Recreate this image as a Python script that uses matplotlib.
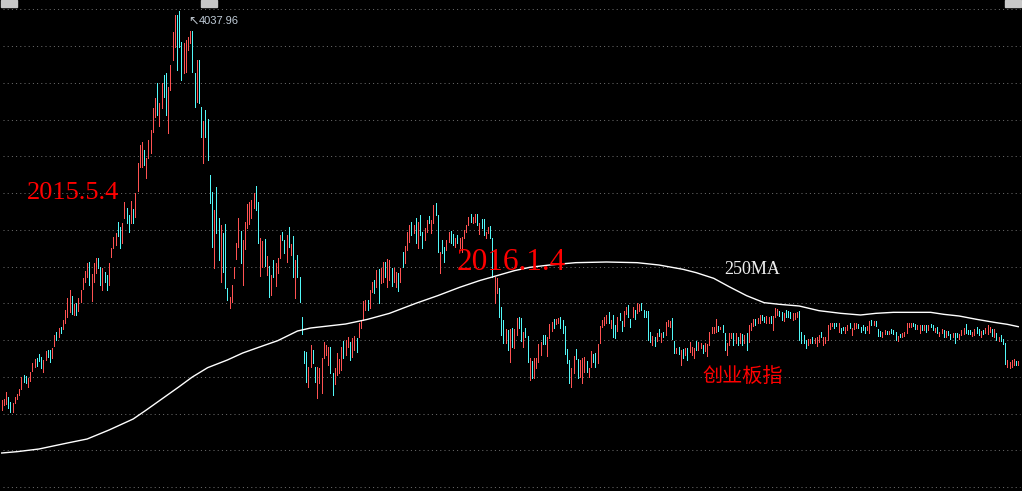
import matplotlib
matplotlib.use('Agg')
import matplotlib.pyplot as plt
from matplotlib.patches import Rectangle
import numpy as np

# ChiNext (创业板指) daily bars: high / low per day
hi = [1704,1710,1752,1722,1692,1686,1722,1740,1770,1842,
      1854,1848,1836,1872,1926,1950,1956,1980,1962,1944,
      1998,2004,2004,2016,2094,2112,2136,2142,2184,2244,
      2316,2364,2328,2280,2286,2316,2364,2436,2478,2526,
      2532,2460,2526,2556,2556,2502,2496,2472,2454,2526,
      2616,2682,2706,2772,2742,2766,2892,2856,2814,2898,
      2850,2946,3126,3234,3252,3204,3156,3264,3324,3456,
      3516,3606,3486,3606,3654,3666,3582,3714,3912,4014,
      4014,4037.96,3852,3846,3864,3882,3918,3918,3666,3744,
      3744,3462,3378,3444,3390,3054,2952,2844,2982,2796,
      2754,2706,2760,2376,2322,2394,2502,2646,2796,2718,
      2664,2772,2880,2892,2904,2946,2988,2892,2676,2658,
      2670,2568,2508,2454,2544,2526,2556,2694,2712,2664,
      2694,2742,2640,2688,2544,2574,2442,2202,1998,1992,
      1902,2034,2004,1902,1902,1896,1956,2052,2034,2022,
      2022,1866,1896,1986,1950,2022,2058,2064,2082,2052,
      2076,2088,2076,2166,2184,2298,2304,2304,2364,2412,
      2424,2484,2490,2496,2532,2532,2550,2544,2496,2496,
      2472,2466,2496,2592,2628,2712,2754,2772,2754,2796,
      2772,2814,2712,2736,2784,2808,2784,2874,2886,2814,
      2592,2664,2622,2664,2712,2718,2700,2676,2694,2676,
      2682,2724,2754,2802,2820,2802,2820,2820,2766,2790,
      2790,2712,2742,2748,2676,2442,2436,2376,2262,2184,
      2130,2124,2130,2136,2130,2196,2202,2196,2112,2136,
      2088,1956,1938,1956,1956,2040,2052,2094,2094,2082,
      2160,2172,2190,2190,2196,2202,2184,2148,2010,1944,
      1896,1968,2010,1950,1944,1956,1962,1938,1896,1998,
      1980,1986,2040,2148,2184,2202,2214,2232,2184,2214,
      2154,2202,2226,2178,2238,2262,2274,2190,2262,2244,
      2286,2280,2286,2244,2238,2238,2112,2088,2082,2106,
      2130,2106,2112,2172,2184,2178,2196,2058,2016,2022,
      2004,2010,2016,2016,2052,2022,2016,2058,2052,2046,
      2034,2046,2040,2112,2142,2142,2190,2148,2142,2154,
      2106,2046,2106,2106,2106,2106,2082,2106,2100,2094,
      2106,2154,2166,2190,2190,2196,2214,2214,2202,2208,
      2202,2208,2208,2256,2250,2238,2232,2226,2244,2238,
      2232,2226,2226,2232,2238,2112,2094,2064,2070,2070,
      2082,2076,2082,2094,2112,2082,2082,2154,2166,2166,
      2166,2166,2166,2136,2142,2142,2154,2166,2136,2166,
      2166,2160,2142,2154,2142,2148,2178,2184,2178,2178,
      2130,2118,2112,2124,2118,2118,2130,2124,2112,2088,
      2100,2106,2112,2166,2166,2166,2166,2160,2154,2154,
      2154,2154,2154,2154,2160,2154,2136,2142,2112,2130,
      2124,2118,2118,2100,2106,2106,2106,2100,2124,2136,
      2160,2124,2124,2112,2130,2142,2130,2118,2124,2136,
      2154,2142,2130,2130,2106,2082,2094,2070,2046,1944,
      1932,1944,1950,1938,1938]

lo = [1644,1674,1680,1656,1632,1632,1686,1710,1734,1770,
      1812,1806,1782,1818,1878,1902,1908,1938,1896,1872,
      1944,1962,1932,1956,2028,2064,2082,2106,2130,2166,
      2202,2232,2220,2214,2214,2238,2292,2370,2412,2442,
      2394,2298,2412,2466,2496,2394,2364,2412,2364,2394,
      2562,2616,2634,2688,2616,2646,2796,2766,2712,2766,
      2766,2802,2958,3102,3102,3114,3036,3156,3186,3312,
      3402,3414,3348,3456,3522,3414,3306,3564,3744,3822,
      3684,3822,3624,3666,3672,3804,3846,3672,3462,3492,
      3486,3282,3126,3282,3144,2886,2622,2496,2706,2544,
      2412,2472,2376,2304,2256,2292,2436,2550,2622,2526,
      2394,2610,2736,2760,2796,2856,2844,2646,2448,2502,
      2508,2454,2322,2334,2442,2388,2466,2556,2664,2586,
      2532,2622,2574,2442,2316,2442,2292,2100,1926,1812,
      1782,1902,1926,1812,1716,1806,1746,1956,1974,1914,
      1866,1734,1800,1854,1866,1884,1956,1974,2022,1944,
      1962,2004,1992,2082,2136,2184,2244,2244,2256,2352,
      2346,2382,2286,2406,2412,2442,2382,2424,2388,2412,
      2382,2358,2412,2502,2526,2604,2652,2694,2706,2646,
      2616,2694,2616,2664,2712,2766,2706,2766,2814,2592,
      2466,2586,2532,2604,2652,2646,2634,2622,2646,2616,
      2592,2676,2712,2754,2772,2766,2772,2754,2700,2736,
      2694,2676,2706,2676,2442,2286,2346,2202,2094,2046,
      2046,2004,1932,2022,2016,2094,2136,2058,2022,2082,
      1932,1824,1836,1836,1896,1932,1974,2040,2040,1968,
      2076,2118,2136,2160,2166,2136,2106,1980,1926,1806,
      1782,1866,1950,1836,1842,1806,1872,1872,1842,1902,
      1932,1902,1926,2046,2142,2154,2166,2166,2136,2082,
      2076,2118,2184,2118,2148,2220,2202,2142,2202,2190,
      2226,2238,2244,2202,2202,2064,2052,2034,2028,2058,
      2088,2052,2082,2094,2148,2142,2070,1986,1986,1980,
      1914,1956,1974,1944,1992,1974,1956,2004,2004,2016,
      1986,1998,1968,2034,2106,2106,2112,2118,2130,2112,
      2004,1974,2034,2076,2034,2046,2034,2046,2034,2046,
      2004,2052,2124,2148,2154,2166,2166,2184,2172,2166,
      2166,2166,2124,2202,2214,2208,2184,2178,2202,2202,
      2196,2184,2190,2202,2064,2046,2046,2016,2034,2046,
      2046,2046,2028,2052,2082,2034,2046,2064,2130,2148,
      2136,2148,2112,2106,2124,2106,2124,2136,2094,2130,
      2136,2136,2112,2124,2106,2124,2106,2154,2154,2148,
      2088,2088,2082,2100,2100,2100,2106,2100,2064,2058,
      2082,2082,2088,2106,2142,2142,2148,2130,2130,2106,
      2124,2124,2112,2124,2142,2124,2112,2106,2088,2106,
      2082,2082,2094,2070,2082,2046,2082,2070,2094,2100,
      2106,2100,2100,2088,2094,2106,2094,2082,2100,2106,
      2100,2112,2088,2082,2064,2058,2058,2040,1920,1902,
      1896,1902,1914,1914,1914]

# u = up day (close > open), d = down day
updown = ("uuudduuuuu" "dduuuudddu" "udduududuu" "uududuuuuu" "duuudduddu"
          "uuudduuddu" "duuuuduuuu" "uduudduuuu" "ddduuuuddu" "dduddddudd"
          "uddduuuuud" "uuuuuudduu" "dududuuudd" "udududdddd" "uudduuuuuu"
          "dduuuuduud" "uuduuuuduu" "duduuduudu" "ududuuudud" "udduuduudd"
          "udduuddudu" "uuuuduudud" "duudduuddd" "ududuuddud" "duduuuuddu"
          "uuduuddddd" "uudduuuduu" "dduuuuudud" "dudduuddud" "uudddddudu"
          "duduuuddud" "ududuuuduu" "duuuuuudud" "duuudududu" "duuuduuddu"
          "uduuuddudd" "duuudddduu" "duuuduuuuu" "ddudduuduu" "udddduudud"
          "dduududddu" "duuuuudduu" "dududduduu" "duddudduuu" "ddduuddudu"
          "uudududddu" "uuudu")

# 250-day moving average, sampled at these bar numbers
ma_idx = [0, 7, 17, 30, 39, 49, 60, 66, 75, 81, 87, 94, 103, 110, 119, 126, 135, 141,
          157, 167, 177, 189, 199, 209, 218, 226, 234, 241, 250, 262, 276, 290, 300,
          311, 317, 325, 332, 340, 348, 355, 364, 373, 383, 392, 399, 407, 424, 430,
          437, 445, 453, 459, 464]
ma_val = [1386, 1394, 1410, 1446, 1470, 1524, 1590, 1644, 1728, 1784, 1842, 1898, 1944,
          1986, 2028, 2060, 2118, 2136, 2160, 2188, 2224, 2284, 2330, 2380, 2420, 2450,
          2480, 2500, 2514, 2528, 2532, 2528, 2514, 2488, 2468, 2434, 2384, 2330, 2288,
          2278, 2268, 2240, 2224, 2214, 2224, 2230, 2230, 2218, 2208, 2188, 2170, 2158,
          2144]

peak_label = '4037.96'

W, H = 1022, 491
fig = plt.figure(figsize=(W / 100, H / 100), dpi=100, facecolor='black')
ax = fig.add_axes([0, 0, 1, 1])
ax.set_facecolor('black')
ax.axis('off')
ax.set_xlim(-0.78, 465.7)
ax.set_ylim(1158, 4104)

def px(x, y):
    return x / W, 1 - y / H

# dotted horizontal grid
for k in range(14):
    ax.axhline(4048.2 - 220.5 * k, color='#6e6e6e', lw=0.72, ls=(0, (1, 3.2)),
               xmin=0.003, xmax=0.998, zorder=1)

x = np.arange(len(hi))
cols = ['#ff5252' if d == 'u' else '#52f8f8' for d in updown]
ax.vlines(x, lo, hi, colors=cols, lw=0.72, antialiased=False, zorder=3)

ax.plot(ma_idx, ma_val, color='white', lw=1.0, zorder=4)

# small grey markers on the top edge
for x0 in (1, 201, 1005):
    fig.patches.append(Rectangle(px(x0, 7.3), 16 / W, 7.3 / H,
                                 transform=fig.transFigure, color='#c8c8c8'))

fig.text(*px(188, 24.5), '↖', color='#b8c0c8', fontsize=9,
         family=['DejaVu Sans'], va='baseline')
fig.text(*px(199, 24), peak_label, color='#c0ccd8', fontsize=8,
         family=['Liberation Sans', 'DejaVu Sans'], va='baseline')

fig.text(*px(27, 199), '2015.5.4', color='#ff0000', fontsize=19,
         family=['Liberation Serif'], va='baseline', zorder=10)
fig.text(*px(457, 270), '2016.1.4', color='#ff0000', fontsize=22.5,
         family=['Liberation Serif'], va='baseline', zorder=10)
fig.text(*px(724, 274), '250MA', color='#eeeeee', fontsize=13,
         family=['Liberation Serif'], va='baseline', zorder=10)
fig.text(*px(702, 382), '创业板指', color='#ff0000', fontsize=14.5,
         family=['Noto Sans CJK SC', 'DejaVu Sans'], va='baseline', zorder=10)

fig.savefig('out.png', dpi=100, facecolor='black')
